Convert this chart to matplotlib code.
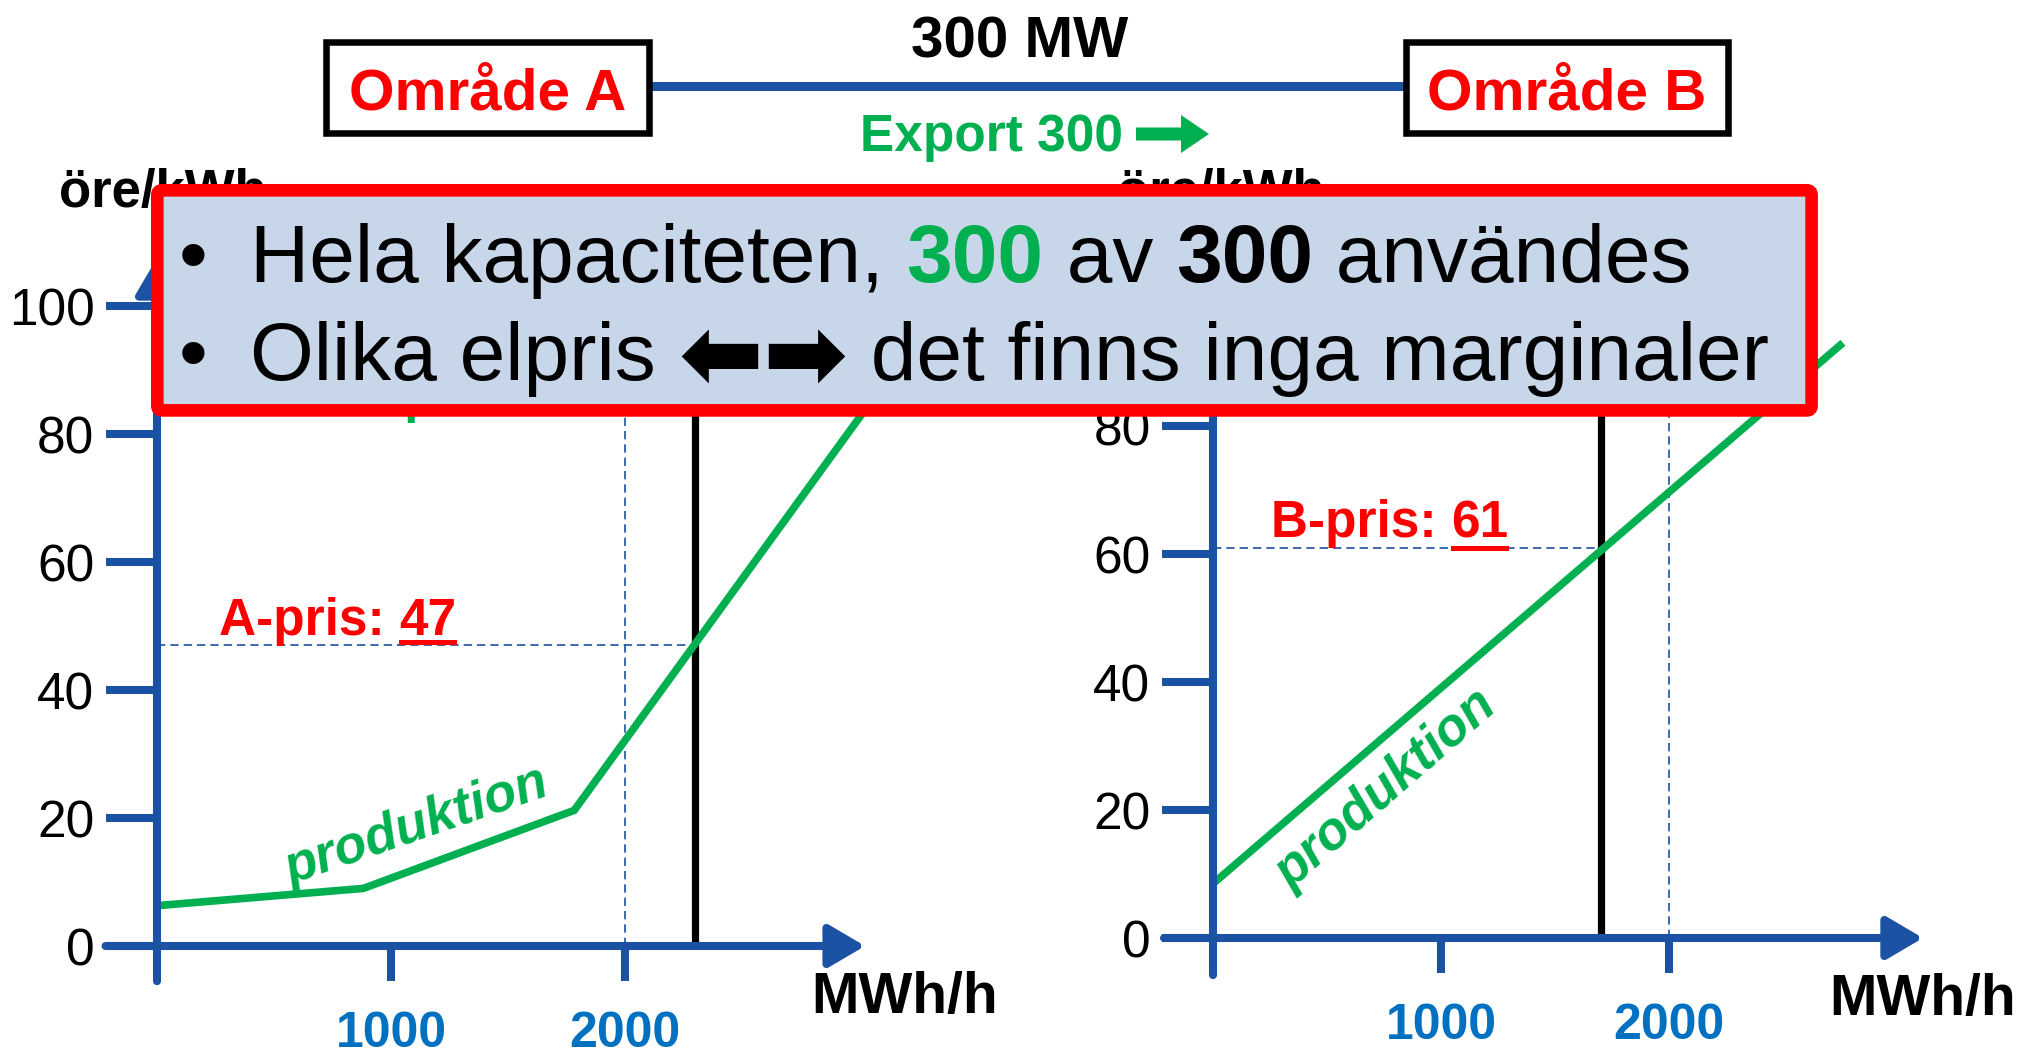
import matplotlib
matplotlib.use('Agg')
import matplotlib.pyplot as plt
from matplotlib.transforms import Affine2D
from matplotlib.patches import Rectangle, FancyBboxPatch, FancyArrow
from matplotlib.lines import Line2D

W, H = 2024, 1054
plt.rcParams['font.family'] = ['Liberation Sans', 'DejaVu Sans']

# ---------------- data ----------------
y_ticks = [0, 20, 40, 60, 80, 100]
y_tick_labels = ['0', '20', '40', '60', '80', '100']
x_ticks = [1000, 2000]
x_tick_labels = ['1000', '2000']

base_demand = 2000          # dashed reference line (MWh/h)
export = 300                # MW transferred A -> B
a_demand = 2300             # demand in A incl. export
b_demand = 1700             # demand in B minus import
a_price = 47
b_price = 61

a_prod_x = [0, 882, 1783, 3050]
a_prod_y = [6.3, 9.0, 21.2, 85.0]
b_prod_x = [0, 2763]
b_prod_y = [8.5, 93.0]

# ---------------- style ----------------
BLUE = '#1B52A3'
TBLUE = '#0070C0'
GREEN = '#00B050'
RED = '#FF0000'
BOXFILL = '#C8D6E9'

fig = plt.figure(figsize=(W / 100, H / 100), dpi=100, facecolor='white')
T = Affine2D().scale(1, -1).translate(0, H)   # pixel coords from top-left


def make_axes(left, base, xpx_per_unit, xmin_line, xtip, ybot):
    ax = fig.add_axes([left / W, 1 - base / H, 3000 * xpx_per_unit / W, 640 / H])
    ax.set_xlim(0, 3000)
    ax.set_ylim(0, 100)
    ax.patch.set_visible(False)
    for s in ax.spines.values():
        s.set_visible(False)
    ax.set_yticks(y_ticks)
    ax.set_yticklabels(y_tick_labels)
    ax.set_xticks(x_ticks)
    ax.set_xticklabels(x_tick_labels)
    ax.tick_params(axis='y', length=37, width=5.8, color=BLUE, pad=8,
                   labelsize=37, labelcolor='black')
    ax.tick_params(axis='x', length=25, width=5.8, color=BLUE, pad=22,
                   labelsize=36, labelcolor=TBLUE)
    for lab in ax.get_xticklabels():
        lab.set_fontweight('bold')
    ap = dict(arrowstyle='-|>,head_length=0.85,head_width=0.5', mutation_scale=26,
              lw=5.8, color=BLUE, shrinkA=0, shrinkB=0)
    ax.annotate('', xy=(xtip, 0), xytext=(xmin_line, 0), arrowprops=ap,
                annotation_clip=False)
    ax.annotate('', xy=(0, 107.5), xytext=(0, ybot), arrowprops=ap,
                annotation_clip=False)
    return ax


axL = make_axes(157, 946, 0.234, -220, 3026, -5.5)
axR = make_axes(1213, 938, 0.228, -215, 3114, -5.8)

dash = dict(color=BLUE, lw=1.2, ls=(0, (5, 3)), clip_on=False)
# left chart
axL.plot([base_demand, base_demand], [0, 95], **dash)
axL.plot([0, a_demand], [a_price, a_price], **dash)
axL.plot([a_demand, a_demand], [0, 95], color='black', lw=5.2, clip_on=False,
         solid_capstyle='butt')
axL.plot(a_prod_x, a_prod_y, color=GREEN, lw=5.5, clip_on=False,
         solid_joinstyle='miter', solid_capstyle='butt')
# right chart
axR.plot([base_demand, base_demand], [0, 95], **dash)
axR.plot([0, b_demand], [b_price, b_price], **dash)
axR.plot([b_demand, b_demand], [0, 95], color='black', lw=5.2, clip_on=False,
         solid_capstyle='butt')
axR.plot(b_prod_x, b_prod_y, color=GREEN, lw=5.5, clip_on=False,
         solid_capstyle='butt')

renderer = fig.canvas.get_renderer()


def tw(s, **kw):
    t = fig.text(0, 0, s + '|', **kw)
    w1 = t.get_window_extent(renderer).width
    t.remove()
    t = fig.text(0, 0, '|', **kw)
    w2 = t.get_window_extent(renderer).width
    t.remove()
    return w1 - w2


def rich(x, y, pieces, zorder=3):
    arts = []
    for piece in pieces:
        s, kw = piece[0], piece[1]
        dy = piece[2] if len(piece) > 2 else 0
        t = fig.text(x, y + dy, s, transform=T, va='baseline', ha='left',
                     zorder=zorder, **kw)
        arts.append(t)
        x += tw(s, **kw)
    return arts


def underline(t, y, color):
    bb = t.get_window_extent(renderer)
    fig.add_artist(Line2D([bb.x0 + 2, bb.x1 - 2], [y, y], transform=T, color=color,
                          lw=3.6, zorder=4))


# axis titles
fig.text(59, 207, 'öre/kWh', transform=T, fontsize=38, fontweight='bold',
         va='baseline', ha='left', zorder=3)
fig.text(1117, 207, 'öre/kWh', transform=T, fontsize=38, fontweight='bold',
         va='baseline', ha='left', zorder=3)
fig.text(905, 998, 'MWh/h', transform=T, fontsize=41, fontweight='bold',
         va='center', ha='center', zorder=3)
fig.text(1923, 1000, 'MWh/h', transform=T, fontsize=41, fontweight='bold',
         va='center', ha='center', zorder=3)

# hidden label partly behind the box
fig.text(347, 412, 'export', transform=T, fontsize=37, fontweight='bold', color=GREEN,
         va='baseline', ha='left', zorder=3)

# price labels
red = dict(fontsize=37, fontweight='bold', color=RED)
ta = rich(219, 635, [('A-pris: ', red), (str(a_price), red)])
underline(ta[1], 642, RED)
tb = rich(1271, 537, [('B-pris: ', red), (str(b_price), red)])
underline(tb[1], 548, RED)

# produktion labels
fig.text(416, 826, 'produktion', transform=T, fontsize=38, fontweight='bold',
         fontstyle='italic', color=GREEN, rotation=19, rotation_mode='anchor',
         ha='center', va='center', zorder=3)
fig.text(1386, 790, 'produktion', transform=T, fontsize=38, fontweight='bold',
         fontstyle='italic', color=GREEN, rotation=41, rotation_mode='anchor',
         ha='center', va='center', zorder=3)

# top diagram
fig.add_artist(Line2D([652, 1403], [86, 86], transform=T, color=BLUE, lw=6.5, zorder=2))
for x0, x1, label in [(323, 652, 'Område A'), (1403, 1731, 'Område B')]:
    fig.add_artist(Rectangle((x0 + 3.3, 39 + 3.3), x1 - x0 - 6.6, 97 - 6.6, transform=T,
                             fc='white', ec='black', lw=4.7, zorder=3))
    fig.text((x0 + x1) / 2, 109, label, transform=T, fontsize=42, fontweight='bold',
             color=RED, ha='center', va='baseline', zorder=4)
fig.text(1020, 58, f'{export} MW', transform=T, fontsize=42, fontweight='bold',
         ha='center', va='baseline', zorder=4)
fig.text(992, 151, f'Export {export}', transform=T, fontsize=37, fontweight='bold',
         color=GREEN, ha='center', va='baseline', zorder=4)
fig.add_artist(FancyArrow(1136, 134, 73, 0, width=13, head_width=38, head_length=28,
                          length_includes_head=True, transform=T, color=GREEN, lw=0,
                          zorder=4))

# overlay box
fig.add_artist(FancyBboxPatch((157.3, 190.3), 1654.3, 220.1,
                              boxstyle='round,pad=0,rounding_size=5', transform=T,
                              fc=BOXFILL, ec=RED, lw=9.1, zorder=10))
reg = dict(fontsize=59, color='black')
bold = dict(fontsize=59, color='black', fontweight='bold')
grn = dict(fontsize=59, color=GREEN, fontweight='bold')
arr = dict(fontsize=73, color='black', fontweight='bold', family=['DejaVu Sans'])
fig.text(193, 282, '•', transform=T, ha='center', va='baseline', zorder=11, **reg)
fig.text(193, 380, '•', transform=T, ha='center', va='baseline', zorder=11, **reg)
rich(250, 282, [('Hela kapaciteten, ', reg), (str(export), grn), (' av ', reg),
                (str(export), bold), (' användes', reg)], zorder=11)
rich(250, 380, [('Olika elpris ', reg), ('⬅➡', arr, 9),
                (' det finns inga marginaler', reg)], zorder=11)

fig.savefig('out.png', dpi=100, facecolor='white')
